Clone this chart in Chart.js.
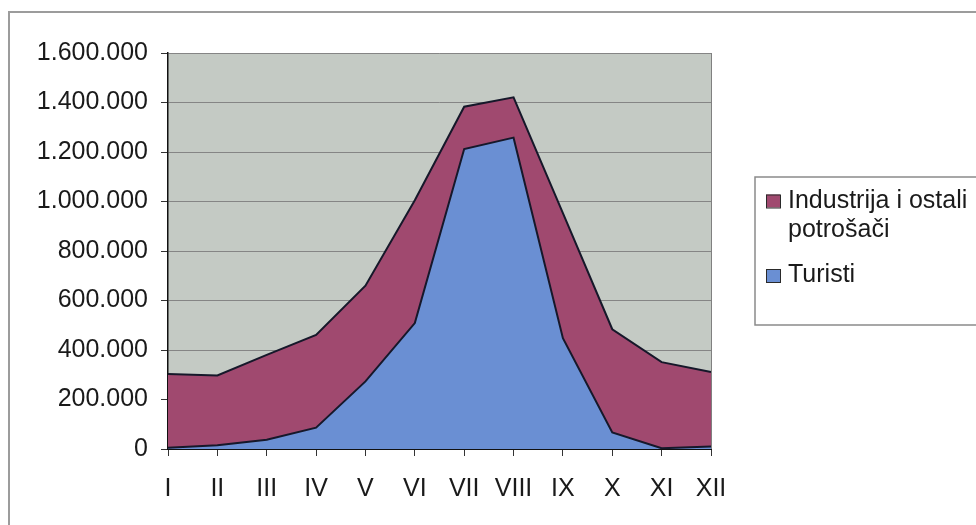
<!DOCTYPE html>
<html>
<head>
<meta charset="utf-8">
<script src="https://cdn.jsdelivr.net/npm/chart.js@4/dist/chart.umd.min.js"></script>
<style>
  html, body { margin: 0; padding: 0; background: #fff; overflow: hidden; }
  #wrap { position: relative; width: 976px; height: 525px; }
</style>
</head>
<body>
<div id="wrap"><canvas id="c" width="976" height="525"></canvas></div>
<script>
// Months (Roman numerals)
const months = ['I', 'II', 'III', 'IV', 'V', 'VI', 'VII', 'VIII', 'IX', 'X', 'XI', 'XII'];

// Monthly consumption per group (stacked)
const turisti = [5000, 15000, 37000, 86000, 273000, 509000, 1212000, 1258000, 448000, 67000, 3000, 10000];
const industrija = [298000, 282000, 343000, 375000, 387000, 496000, 171000, 163000, 505000, 417000, 348000, 301000];

// Value axis ticks
const yTicks = [0, 200000, 400000, 600000, 800000, 1000000, 1200000, 1400000, 1600000];

const seriesNames = ['Turisti', 'Industrija i ostali potrošači'];
const seriesColors = ['#6a8fd3', '#a0496f'];

const FONT = '"Liberation Sans", Arial, sans-serif';

function fmt(v) {
  return String(v).replace(/\B(?=(\d{3})+(?!\d))/g, '.');
}

// Page frame, plot background and boxed legend
const framePlugin = {
  id: 'frame',
  beforeDraw(chart) {
    const ctx = chart.ctx;
    const a = chart.chartArea;
    ctx.save();
    ctx.fillStyle = '#ffffff';
    ctx.fillRect(0, 0, chart.width, chart.height);
    ctx.strokeStyle = '#9c9c9c';
    ctx.lineWidth = 2;
    ctx.strokeRect(9, 12, chart.width + 20, chart.height + 20);
    ctx.fillStyle = '#c4cac4';
    ctx.fillRect(a.left, a.top, a.right - a.left, a.bottom - a.top);
    ctx.restore();
  },
  afterDraw(chart) {
    const ctx = chart.ctx;
    const a = chart.chartArea;
    ctx.save();
    // plot area right edge
    ctx.strokeStyle = '#808080';
    ctx.lineWidth = 1;
    ctx.beginPath();
    ctx.moveTo(a.right + 0.5, a.top);
    ctx.lineTo(a.right + 0.5, a.bottom);
    ctx.stroke();

    // legend box
    ctx.strokeStyle = '#8a8a8a';
    ctx.lineWidth = 1.5;
    ctx.strokeRect(755, 177, 260, 148);

    const items = chart.options.plugins.legend.labels.generateLabels(chart).slice().reverse();
    ctx.font = '25px ' + FONT;
    ctx.textBaseline = 'alphabetic';
    ctx.textAlign = 'left';
    const textX = 788;
    const maxW = 192;
    const lineH = 29.5;
    let baseline = 207.5;
    items.forEach(item => {
      // swatch
      ctx.fillStyle = item.fillStyle;
      ctx.fillRect(766, baseline - 13, 14, 13);
      ctx.strokeStyle = '#2a2a2a';
      ctx.lineWidth = 1;
      ctx.strokeRect(766.5, baseline - 12.5, 14, 13);
      // wrapped text
      const words = item.text.split(' ');
      const lines = [];
      let cur = '';
      words.forEach(w => {
        const t = cur ? cur + ' ' + w : w;
        if (ctx.measureText(t).width > maxW && cur) { lines.push(cur); cur = w; }
        else cur = t;
      });
      if (cur) lines.push(cur);
      ctx.fillStyle = '#1a1a1a';
      lines.forEach((ln, i) => ctx.fillText(ln, textX, baseline + i * lineH));
      baseline += (lines.length - 1) * lineH + 45;
    });
    ctx.restore();
  }
};

new Chart(document.getElementById('c'), {
  type: 'line',
  data: {
    labels: months,
    datasets: [
      {
        label: seriesNames[0],
        data: turisti,
        backgroundColor: seriesColors[0],
        borderColor: '#16182a',
        borderWidth: 2,
        fill: 'origin',
        pointRadius: 0,
        tension: 0
      },
      {
        label: seriesNames[1],
        data: industrija,
        backgroundColor: seriesColors[1],
        borderColor: '#16182a',
        borderWidth: 2,
        fill: '-1',
        pointRadius: 0,
        tension: 0
      }
    ]
  },
  options: {
    responsive: false,
    animation: false,
    devicePixelRatio: 1,
    layout: { padding: { top: 53, right: 265, bottom: 0, left: 0 } },
    plugins: {
      legend: { display: false },
      tooltip: { enabled: false }
    },
    scales: {
      x: {
        offset: false,
        stacked: true,
        grid: { drawOnChartArea: false, drawTicks: true, tickLength: 7, tickColor: '#333', lineWidth: 1 },
        border: { color: '#111', width: 2 },
        ticks: { color: '#1a1a1a', font: { family: FONT, size: 25 }, padding: 18, maxRotation: 0, autoSkip: false },
        afterFit(scale) { scale.height = 76; }
      },
      y: {
        stacked: true,
        min: 0,
        max: 1600000,
        afterBuildTicks(scale) { scale.ticks = yTicks.map(v => ({ value: v })); },
        grid: { color: '#858585', lineWidth: 1, drawTicks: true, tickLength: 7, tickColor: '#333' },
        border: { color: '#111', width: 1.5 },
        ticks: { color: '#1a1a1a', font: { family: FONT, size: 25 }, padding: 13, callback: v => fmt(v) },
        afterFit(scale) { scale.width = 168; }
      }
    }
  },
  plugins: [framePlugin]
});
</script>
</body>
</html>
